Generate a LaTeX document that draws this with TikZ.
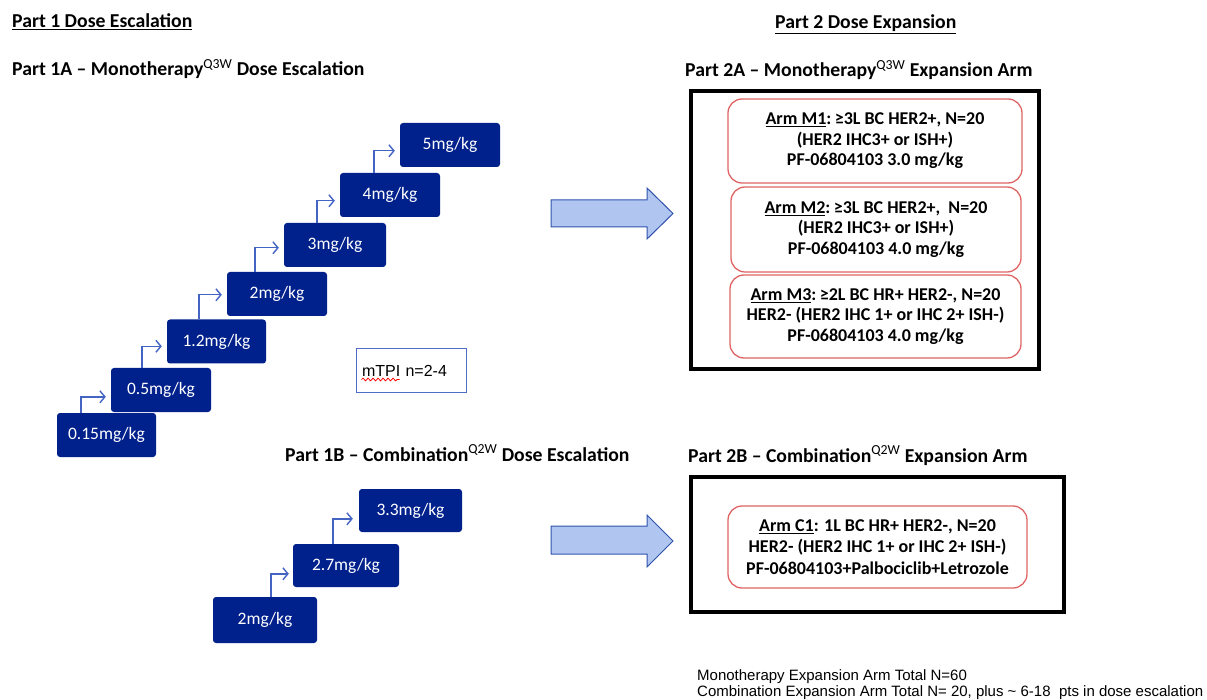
\documentclass[tikz,border=0pt]{standalone}
\usepackage{fontspec}
\setmainfont{Carlito}
\newfontfamily\arialf{Liberation Sans}
\usetikzlibrary{arrows.meta,decorations.pathmorphing}
\definecolor{navy}{RGB}{0,32,140}
\definecolor{stepblue}{RGB}{68,100,196}
\definecolor{armred}{RGB}{224,100,100}
\definecolor{bigfill}{RGB}{176,198,240}
\definecolor{bigline}{RGB}{47,82,170}
\definecolor{tpiblue}{RGB}{80,110,200}
\newcommand{\mygeq}{\kern-2pt≥}
\begin{document}
\begin{tikzpicture}[x=1pt,y=-1pt,
  dosebox/.style={fill=navy, rounded corners=3, minimum width=99, minimum height=44, inner sep=0, text=white, font=\fontsize{17.5}{20}\selectfont},
  steparrow/.style={stepblue, line width=1.4, -{Straight Barb[length=5,width=12]}},
  heading/.style={anchor=base west, inner sep=0, font=\bfseries\fontsize{19.7}{22}\selectfont},
  armbox/.style={draw=armred, line width=1.3, rounded corners=14, inner sep=0, align=center, font=\bfseries\fontsize{18}{20.5}\selectfont},
  outerbox/.style={draw=black, line width=4, inner sep=0},
  bigarrow/.style={fill=bigfill, draw=bigline, line width=1},
  note/.style={anchor=base west, inner sep=0, font=\arialf\fontsize{15}{17}\selectfont}
]
\useasboundingbox (0,0) rectangle (1207,700);

% headings
\node[heading] (h1) at (12,28) {\underline{Part 1 Dose Escalation}};
\node[heading] (h1a) at (12,76) {Part 1A \textendash{} Monotherapy\textsuperscript{\mdseries Q3W} Dose Escalation};
\node[heading] (h2) at (775,29) {\underline{Part 2 Dose Expansion}};
\node[heading] (h2a) at (685,77) {Part 2A \textendash{} Monotherapy\textsuperscript{\mdseries Q3W} Expansion Arm};
\node[heading] (h1b) at (285,461) {Part 1B \textendash{} Combination\textsuperscript{\mdseries Q2W} Dose Escalation};
\node[heading] (h2b) at (688,462) {Part 2B \textendash{} Combination\textsuperscript{\mdseries Q2W} Expansion Arm};

% Part 1A steps
\node[dosebox] (s0) at (106.5,435) {0.15mg/kg};
\node[dosebox, minimum width=100] (s1) at (161,390) {0.5mg/kg};
\node[dosebox] (s2) at (216.5,341.5) {1.2mg/kg};
\node[dosebox, minimum width=100] (s3) at (277,294) {2mg/kg};
\node[dosebox, minimum width=102] (s4) at (335,245) {3mg/kg};
\node[dosebox, minimum width=100] (s5) at (390,195) {4mg/kg};
\node[dosebox, minimum width=100] (s6) at (450,145) {5mg/kg};
\foreach \a/\b/\dx/\dy in {s0/s1/24/29,s1/s2/31/27,s2/s3/32/23,s3/s4/28/25,s4/s5/33/28,s5/s6/34/28}
  \draw[steparrow] ([xshift=\dx]\a.north west) |- ([xshift=-5,yshift=-\dy]\b.north west);

% mTPI box
\node[draw=tpiblue, line width=1, minimum width=110, minimum height=43, text width=98, inner xsep=6, inner ysep=0, align=left, font=\arialf\fontsize{16}{18}\selectfont] (mtpi) at (411,370.5) {mTPI n=2-4};
\draw[red, line width=0.8, decorate, decoration={snake, amplitude=1.3, segment length=5}] ([xshift=6,yshift=-9]mtpi.west) -- ([xshift=44,yshift=-9]mtpi.west);

% Part 1B steps
\node[dosebox, minimum width=104, minimum height=46] (b0) at (265,620) {2mg/kg};
\node[dosebox, minimum width=106, minimum height=43] (b1) at (346,565.5) {2.7mg/kg};
\node[dosebox, minimum width=103, minimum height=43] (b2) at (410.5,510.5) {3.3mg/kg};
\draw[steparrow] ([xshift=58]b0.north west) |- ([xshift=-4,yshift=-30]b1.north west);
\draw[steparrow] ([xshift=40]b1.north west) |- ([xshift=-6,yshift=-30]b2.north west);

% big block arrows
\draw[bigarrow] (551,200) -- (647,200) -- (647,188) -- (673,213.5) -- (647,239) -- (647,227) -- (551,227) -- cycle;
\draw[bigarrow] (551,526) -- (647,526) -- (647,515) -- (673,541) -- (647,567) -- (647,554) -- (551,554) -- cycle;

% Part 2A
\node[outerbox, minimum width=348, minimum height=278] (p2a) at (865,230) {};
\node[armbox, minimum width=294, minimum height=84] (m1) at (875,141)
  {\underline{Arm M1}: \mygeq3L BC HER2+, N=20\\(HER2 IHC3+ or ISH+)\\PF-06804103 3.0 mg/kg};
\node[armbox, minimum width=290, minimum height=85] (m2) at (876,229.5)
  {\underline{Arm M2}: \mygeq3L BC HER2+,\ \ N=20\\(HER2 IHC3+ or ISH+)\\PF-06804103 4.0 mg/kg};
\node[armbox, minimum width=291, minimum height=83] (m3) at (875.5,316.5)
  {\underline{Arm M3}: \mygeq2L BC HR+ HER2-, N=20\\HER2- (HER2 IHC 1+ or IHC 2+ ISH-)\\PF-06804103 4.0 mg/kg};

% Part 2B
\node[outerbox, minimum width=373, minimum height=135] (p2b) at (877.5,544.5) {};
\node[armbox, minimum width=299, minimum height=82, font=\bfseries\fontsize{18}{21.5}\selectfont] (c1) at (877.5,547)
  {\underline{Arm C1}: 1L BC HR+ HER2-, N=20\\HER2- (HER2 IHC 1+ or IHC 2+ ISH-)\\PF-06804103+Palbociclib+Letrozole};

% notes
\node[note] (n1) at (697,680) {Monotherapy Expansion Arm Total N=60};
\node[note] (n2) at (697,696) {Combination Expansion Arm Total N= 20, plus \textasciitilde{} 6-18\ \ pts in dose escalation};
\end{tikzpicture}
\end{document}
